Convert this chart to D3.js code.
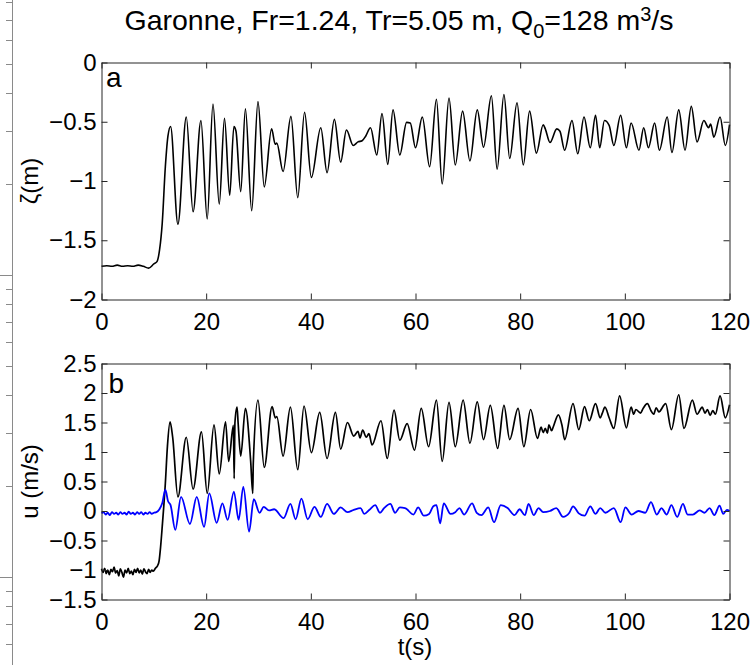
<!DOCTYPE html>
<html>
<head>
<meta charset="utf-8">
<script src="https://cdn.jsdelivr.net/npm/d3@7/dist/d3.min.js"></script>
<style>
  body { margin: 0; background: #fff; }
  text { font-family: "Liberation Sans", Arial, sans-serif; fill: #000; }
</style>
</head>
<body>
<script>
// Data //

const xTicks = [0, 20, 40, 60, 80, 100, 120];
const zetaTicks = [-2, -1.5, -1, -0.5, 0];
const uTicks = [-1.5, -1, -0.5, 0, 0.5, 1, 1.5, 2, 2.5];

// free surface elevation zeta (m) vs t (s)
const zeta = [
  [0,-1.72],[1,-1.715],[2,-1.72],[3,-1.71],[4,-1.72],[5,-1.715],[6,-1.72],[7,-1.71],[8,-1.72],
  [9,-1.735],[10,-1.70],[10.6,-1.68],[11.1,-1.58],[11.6,-1.36],[12.2,-0.88],[12.7,-0.62],[13.2,-0.54],
  [14.6,-1.365],[16.2,-0.46],[17.5,-1.26],[19.0,-0.49],[20.2,-1.32],[21.3,-0.35],[22.5,-1.195],
  [23.5,-0.47],[24.5,-1.12],[25.3,-0.54],[25.7,-0.58],[26.6,-1.09],[27.5,-0.39],[28.7,-1.25],
  [29.9,-0.33],[31.1,-1.05],[32.5,-0.56],[33.2,-0.69],[33.5,-0.68],[34.7,-0.92],[36.2,-0.455],
  [37.5,-1.14],[38.8,-0.42],[40.1,-0.97],[41.9,-0.55],[43.1,-0.93],[44.5,-0.48],[45.7,-0.84],
  [46.8,-0.57],[48.1,-0.70],[49.0,-0.67],[49.8,-0.66],[50.5,-0.62],[51.4,-0.55],[52.6,-0.78],
  [53.6,-0.43],[54.7,-0.86],[55.7,-0.40],[57.0,-0.78],[58.3,-0.505],[59.0,-0.51],[60.0,-0.72],
  [61.3,-0.46],[62.7,-0.88],[64.0,-0.31],[65.1,-1.025],[66.4,-0.30],[67.6,-0.865],[69.0,-0.41],
  [70.4,-0.83],[71.8,-0.40],[73.0,-0.715],[74.5,-0.28],[75.6,-0.90],[76.9,-0.27],[78.0,-0.81],
  [79.4,-0.34],[80.6,-0.865],[81.8,-0.41],[83.1,-0.765],[84.4,-0.525],[84.8,-0.56],[85.7,-0.675],
  [87.0,-0.56],[87.6,-0.58],[88.5,-0.74],[89.9,-0.49],[91.0,-0.77],[92.2,-0.46],[93.4,-0.72],
  [94.4,-0.445],[95.2,-0.72],[96.1,-0.49],[97.0,-0.53],[97.9,-0.70],[99.2,-0.445],[100.3,-0.72],
  [101.2,-0.51],[102.7,-0.74],[103.6,-0.55],[104.5,-0.72],[105.7,-0.51],[106.6,-0.74],[108.1,-0.46],
  [109.0,-0.76],[110.3,-0.40],[111.5,-0.74],[112.7,-0.37],[113.8,-0.67],[115.1,-0.49],[116.0,-0.55],
  [116.4,-0.52],[117.0,-0.63],[118.2,-0.46],[119.2,-0.70],[120,-0.525]
];

// velocity u (m/s), black trace
const uBlack = [
  [0,-0.98],[0.3,-1.04],[0.6,-0.97],[0.9,-1.06],[1.2,-1.0],[1.5,-1.08],[1.8,-0.99],[2.1,-1.03],
  [2.4,-0.95],[2.7,-1.05],[3.0,-1.01],[3.3,-1.1],[3.6,-0.98],[3.9,-1.04],[4.2,-1.12],[4.5,-1.0],
  [4.8,-1.05],[5.1,-0.97],[5.4,-1.06],[5.7,-1.02],[6.0,-1.08],[6.3,-0.99],[6.6,-1.04],[6.9,-0.97],
  [7.2,-1.05],[7.5,-1.0],[7.8,-1.07],[8.1,-0.98],[8.4,-1.03],[8.7,-1.06],[9.0,-0.99],[9.3,-1.04],
  [9.6,-1.0],[9.9,-1.02],[10.3,-0.97],[10.7,-0.93],[11.0,-0.85],[11.3,-0.6],[11.6,-0.27],[12.2,0.47],
  [12.6,1.1],[13.1,1.51],[13.6,1.25],[14.6,0.24],[16.2,1.25],[17.5,0.37],[19.1,1.34],[20.2,0.30],
  [21.5,1.46],[22.5,0.63],[23.7,1.51],[24.3,0.84],[25.2,1.45],[25.35,0.55],[25.5,1.5],[25.9,1.76],
  [26.1,1.5],[26.6,0.93],[27.5,1.74],[28.5,0.85],[28.9,0.30],[29.0,0.8],[29.9,1.88],[31.1,0.74],
  [32.6,1.77],[33.2,1.58],[33.5,1.6],[34.7,0.93],[36.1,1.76],[37.5,0.70],[38.7,1.78],[40.1,0.99],
  [41.7,1.67],[43.1,0.89],[44.7,1.67],[45.7,1.05],[47.0,1.50],[48.2,1.27],[49.0,1.35],[49.4,1.24],
  [49.9,1.37],[50.6,1.25],[51.1,1.31],[51.7,1.12],[53.4,1.53],[54.6,0.89],[55.9,1.71],[57.0,1.20],
  [58.4,1.48],[59.8,1.03],[61.1,1.74],[62.5,1.09],[64.0,1.88],[65.1,0.84],[66.4,1.84],[67.6,1.09],
  [69.1,1.88],[70.4,1.15],[71.8,1.85],[73.0,1.21],[74.3,1.79],[75.7,1.06],[76.9,1.79],[78.0,1.21],
  [79.6,1.74],[80.7,1.09],[82.0,1.72],[83.3,1.23],[84.0,1.42],[84.4,1.33],[84.8,1.40],[85.2,1.32],
  [85.5,1.46],[86.0,1.36],[86.3,1.42],[87.3,1.63],[88.0,1.45],[88.5,1.21],[90.1,1.82],[91.2,1.38],
  [92.3,1.77],[93.2,1.53],[94.4,1.82],[95.3,1.58],[95.7,1.66],[96.2,1.76],[97.0,1.58],[97.9,1.40],
  [99.0,1.95],[100.3,1.41],[101.2,1.76],[101.7,1.64],[102.1,1.72],[103.0,1.66],[103.5,1.74],
  [104.3,1.82],[105.0,1.70],[105.5,1.64],[106.0,1.75],[106.5,1.68],[107.8,1.82],[108.9,1.38],
  [110.3,1.97],[111.3,1.40],[112.9,1.88],[113.8,1.64],[114.8,1.76],[115.3,1.66],[115.8,1.72],
  [116.3,1.62],[116.8,1.70],[117.3,1.64],[118.2,1.95],[119.2,1.58],[120,1.8]
];

// blue trace
const uBlue = [
  [0,-0.04],[0.4,-0.02],[0.8,-0.06],[1.2,-0.03],[1.6,-0.07],[2.0,-0.02],[2.4,-0.05],[2.8,-0.03],
  [3.2,-0.06],[3.6,-0.02],[4.0,-0.05],[4.4,-0.03],[4.8,-0.06],[5.2,-0.01],[5.6,-0.05],[6.0,-0.03],
  [6.4,-0.06],[6.8,-0.02],[7.2,-0.05],[7.6,-0.02],[8.0,-0.06],[8.4,-0.03],[8.8,-0.05],[9.2,-0.02],
  [9.6,-0.05],[10.0,-0.03],[10.5,-0.02],[11.0,0.02],[11.6,0.13],[12.2,0.36],[12.7,0.17],[13.2,0.1],
  [14.1,-0.32],[15.2,0.24],[16.9,-0.22],[18.2,0.24],[19.6,-0.27],[20.6,0.30],[22.0,-0.2],[23.1,0.13],
  [24.1,-0.15],[25.3,0.33],[26.2,-0.15],[27.1,0.41],[28.2,-0.35],[29.1,0.2],[30.2,-0.03],[31.0,0.07],
  [32.0,0.01],[33.0,0.03],[34.8,-0.12],[36.1,0.12],[37.1,-0.14],[38.2,0.21],[39.4,-0.14],[40.7,0.07],
  [41.9,-0.1],[43.1,0.12],[44.4,-0.05],[45.7,0.06],[47.0,-0.02],[48.2,0.02],[49.5,0.05],[50.2,-0.05],
  [51.2,0.02],[52.3,0.1],[53.2,-0.03],[54.0,0.05],[55.2,0.12],[56.1,-0.03],[57.0,0.06],[58.0,0.05],
  [59.6,-0.06],[60.5,0.06],[61.6,-0.08],[62.6,-0.05],[63.4,0.08],[64.0,0.1],[64.7,-0.21],[65.4,0.13],
  [66.7,-0.05],[67.6,-0.02],[68.4,0.05],[69.3,-0.06],[70.8,0.13],[71.7,-0.03],[72.6,-0.07],[73.9,0.06],
  [75.0,-0.19],[76.3,0.10],[77.6,0.05],[78.9,-0.07],[79.9,0.03],[80.9,-0.07],[81.6,0.12],[82.6,-0.07],
  [83.5,0.05],[84.4,-0.02],[85.7,0.0],[86.9,0.05],[88.2,-0.1],[89.4,-0.03],[90.1,0.08],[91.2,-0.04],
  [92.3,-0.08],[93.4,0.08],[94.4,-0.05],[95.3,0.05],[96.3,-0.03],[97.9,0.05],[99.2,-0.19],[100.1,0.06],
  [101.3,-0.06],[102.6,0.0],[103.9,-0.03],[105.0,0.15],[106.1,-0.06],[107.0,0.05],[108.0,-0.06],
  [108.9,0.1],[110.0,-0.1],[111.1,0.12],[112.0,-0.06],[113.0,-0.06],[114.3,0.01],[115.2,-0.03],
  [116.2,0.05],[117.1,-0.07],[118.1,0.09],[118.8,-0.05],[119.5,0.02],[120,0.0]
];

// Canvas //

const W = 753, H = 665;
const frame = "#262626";
const tickFont = 24;

var svg = d3.select("body")
  .append("svg")
  .attr("width", W)
  .attr("height", H);

// cropped edge of a neighbouring log axis on the far left
var edgeScale = d3.scaleLog().domain([1, 10]).range([577, 275]);
svg.append("line")
  .attr("x1", 12.5).attr("x2", 12.5)
  .attr("y1", 0).attr("y2", H)
  .attr("stroke", "#8a8a8a");
svg.selectAll(".edge-tick")
  .data(d3.scaleLog().domain([0.55, 85]).ticks())
  .enter().append("line")
  .attr("class", "edge-tick")
  .attr("x1", d => Math.abs(Math.log10(d) % 1) < 1e-9 ? 0 : 6)
  .attr("x2", 12.5)
  .attr("y1", d => Math.round(edgeScale(d)) + 0.5)
  .attr("y2", d => Math.round(edgeScale(d)) + 0.5)
  .attr("stroke", "#8a8a8a");

// Title
var title = svg.append("text")
  .attr("x", 399)
  .attr("y", 30)
  .attr("text-anchor", "middle")
  .attr("font-size", "28.5px");
title.append("tspan").text("Garonne, Fr=1.24, Tr=5.05 m, Q");
title.append("tspan").attr("font-size", "20px").attr("dy", 8).text("0");
title.append("tspan").attr("dy", -8).text("=128 m");
title.append("tspan").attr("font-size", "20px").attr("dy", -9).text("3");
title.append("tspan").attr("dy", 9).text("/s");

// X scale (shared)
var xScale = d3.scaleLinear()
  .domain([0, 120])
  .range([101.5, 729.5]);

const fmt = d => String(d).replace("-", "\u2212");

var panels = [
  { letter: "a", domain: [-2, 0], range: [299.5, 62.5], ticks: zetaTicks, label: "\u03b6(m)",
    series: [{ data: zeta, color: "#000", w: 1.6 }] },
  { letter: "b", domain: [-1.5, 2.5], range: [599.5, 363.5], ticks: uTicks, label: "u (m/s)",
    series: [{ data: uBlack, color: "#000", w: 1.7 }, { data: uBlue, color: "#0000ff", w: 1.8 }] }
];

panels.forEach((p, i) => {
  var yScale = d3.scaleLinear().domain(p.domain).range(p.range);
  var g = svg.append("g");
  var top = p.range[1], bottom = p.range[0];

  // lines
  var line = d3.line()
    .x(d => xScale(d[0]))
    .y(d => yScale(d[1]))
    .curve(d3.curveMonotoneX);
  p.series.forEach(s => {
    g.append("path")
      .datum(s.data)
      .attr("fill", "none")
      .attr("stroke", s.color)
      .attr("stroke-width", s.w)
      .attr("stroke-linejoin", "round")
      .attr("d", line);
  });

  // axes, ticks pointing inward on all four sides
  var bottomAxis = g.append("g")
    .attr("transform", "translate(0," + bottom + ")")
    .call(d3.axisBottom(xScale).tickValues(xTicks).tickSize(-6).tickSizeOuter(0)
      .tickPadding(13).tickFormat(fmt));
  var topAxis = g.append("g")
    .attr("transform", "translate(0," + top + ")")
    .call(d3.axisTop(xScale).tickValues(xTicks).tickSize(-6).tickSizeOuter(0).tickFormat(""));
  var leftAxis = g.append("g")
    .attr("transform", "translate(" + xScale.range()[0] + ",0)")
    .call(d3.axisLeft(yScale).tickValues(p.ticks).tickSize(-6).tickSizeOuter(0)
      .tickPadding(5).tickFormat(fmt));
  var rightAxis = g.append("g")
    .attr("transform", "translate(" + xScale.range()[1] + ",0)")
    .call(d3.axisRight(yScale).tickValues(p.ticks).tickSize(-6).tickSizeOuter(0).tickFormat(""));

  [bottomAxis, topAxis, leftAxis, rightAxis].forEach(a => {
    a.attr("font-family", null).attr("font-size", null);
    a.selectAll("path, line").attr("stroke", frame);
    a.selectAll("text").attr("font-size", tickFont + "px").attr("fill", "#000");
  });

  // y label
  g.append("text")
    .attr("transform", "translate(37.5," + (top + bottom) / 2 + ") rotate(-90)")
    .attr("text-anchor", "middle")
    .attr("font-size", "24px")
    .text(p.label);

  // panel letter
  g.append("text")
    .attr("x", i === 0 ? 106 : 108.5)
    .attr("y", i === 0 ? 86.5 : 393)
    .attr("font-size", "28px")
    .text(p.letter);
});

// X label
svg.append("text")
  .attr("x", 415)
  .attr("y", 655)
  .attr("text-anchor", "middle")
  .attr("font-size", "24px")
  .text("t(s)");
</script>
</body>
</html>
